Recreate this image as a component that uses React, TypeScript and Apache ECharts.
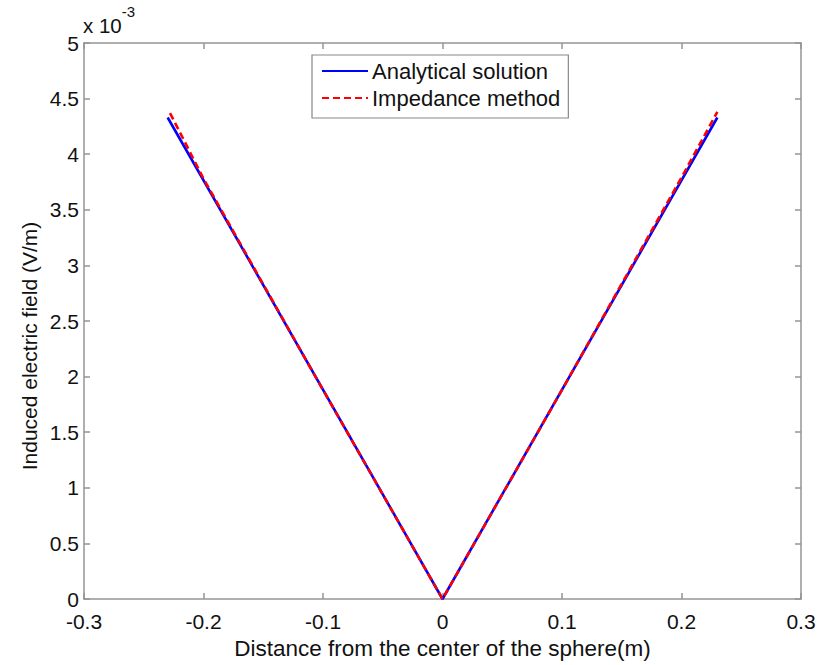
import React, { useEffect, useRef } from "react";
import * as echarts from "echarts";

const analyticalX = [-0.23, 0, 0.23];
const analyticalY = [4.33, 0, 4.33];
const impedanceX = [-0.228, -0.2, -0.1, 0, 0.1, 0.2, 0.23];
const impedanceY = [4.37, 3.78, 1.88, 0, 1.88, 3.79, 4.38];
const seriesNames = ["Analytical solution", "Impedance method"];
const xTitle = "Distance from the center of the sphere(m)";
const yTitle = "Induced electric field (V/m)";

const FONT = "Liberation Sans, Arial, sans-serif";
const AXIS_COLOR = "#959595";
const TEXT = "#111";

export default function App() {
  const ref = useRef<HTMLDivElement>(null);
  useEffect(() => {
    if (!ref.current) return;
    const chart = echarts.init(ref.current, undefined, { renderer: "svg" });
    const xBase = {
      min: -0.3,
      max: 0.3,
      interval: 0.1,
      axisLine: { show: true, onZero: false, lineStyle: { color: AXIS_COLOR, width: 1.5 } },
      axisTick: { show: true, inside: true, length: 6, lineStyle: { color: AXIS_COLOR, width: 1.5 } },
      splitLine: { show: false },
    };
    const yBase = {
      min: 0,
      max: 5,
      interval: 0.5,
      axisLine: { show: true, onZero: false, lineStyle: { color: AXIS_COLOR, width: 1.5 } },
      axisTick: { show: true, inside: true, length: 6, lineStyle: { color: AXIS_COLOR, width: 1.5 } },
      splitLine: { show: false },
    };
    chart.setOption({
      animation: false,
      backgroundColor: "#ffffff",
      grid: { left: 84, right: 21, top: 43, bottom: 60, containLabel: false },
      xAxis: [
        {
          type: "value",
          position: "bottom",
          ...xBase,
          name: xTitle,
          nameLocation: "middle",
          nameGap: 38,
          nameTextStyle: { color: TEXT, fontSize: 22.5, fontFamily: FONT },
          axisLabel: {
            color: TEXT,
            fontSize: 21,
            fontFamily: FONT,
            margin: 13,
            lineHeight: 18,
            formatter: (v: number) => (Math.abs(v) < 1e-9 ? "0" : String(Math.round(v * 10) / 10)),
          },
        },
        {
          type: "value",
          position: "top",
          ...xBase,
          axisLabel: { show: false },
        },
      ],
      yAxis: [
        {
          type: "value",
          position: "left",
          ...yBase,
          axisLabel: {
            color: TEXT,
            fontSize: 21,
            fontFamily: FONT,
            margin: 5,
            lineHeight: 16,
            formatter: (v: number) => String(Math.round(v * 10) / 10),
          },
        },
        {
          type: "value",
          position: "right",
          ...yBase,
          axisLabel: { show: false },
        },
      ],
      legend: {
        orient: "vertical",
        left: 312,
        top: 55,
        padding: [5, 8, 9, 9],
        itemGap: 5,
        itemWidth: 46,
        itemHeight: 14,
        borderColor: "#888",
        borderWidth: 1.2,
        borderRadius: 0,
        backgroundColor: "#fff",
        itemStyle: { opacity: 0 },
        textStyle: { color: TEXT, fontSize: 22, fontFamily: FONT, padding: [0, 0, 0, -1] },
        data: seriesNames,
      },
      graphic: [
        {
          type: "text",
          left: 83,
          top: 4,
          style: {
            text: "{b|x 10}{s|-3}",
            rich: {
              b: { fontSize: 20.5, fontFamily: FONT, fill: TEXT, padding: [11, 0, 0, 0] },
              s: { fontSize: 15, fontFamily: FONT, fill: TEXT, verticalAlign: "top" },
            },
          },
        },
        {
          type: "text",
          x: 29,
          y: 346,
          rotation: Math.PI / 2,
          style: {
            text: yTitle,
            fontSize: 21,
            fontFamily: FONT,
            fill: TEXT,
            align: "center",
            verticalAlign: "middle",
          },
        },
      ],
      series: [
        {
          name: seriesNames[0],
          type: "line",
          xAxisIndex: 0,
          yAxisIndex: 0,
          data: analyticalX.map((x, i) => [x, analyticalY[i]]),
          symbol: "none",
          lineStyle: { color: "#0000ff", width: 2.6 },
          itemStyle: { color: "#0000ff" },
          z: 2,
        },
        {
          name: seriesNames[1],
          type: "line",
          xAxisIndex: 0,
          yAxisIndex: 0,
          data: impedanceX.map((x, i) => [x, impedanceY[i]]),
          symbol: "none",
          lineStyle: { color: "#ff0000", width: 2.6, type: [7, 4] },
          itemStyle: { color: "#ff0000" },
          z: 3,
        },
      ],
    });
    return () => chart.dispose();
  }, []);
  return (
    <div
      ref={ref}
      style={{ position: "fixed", left: 0, top: 0, width: 822, height: 665, background: "#fff" }}
    />
  );
}
